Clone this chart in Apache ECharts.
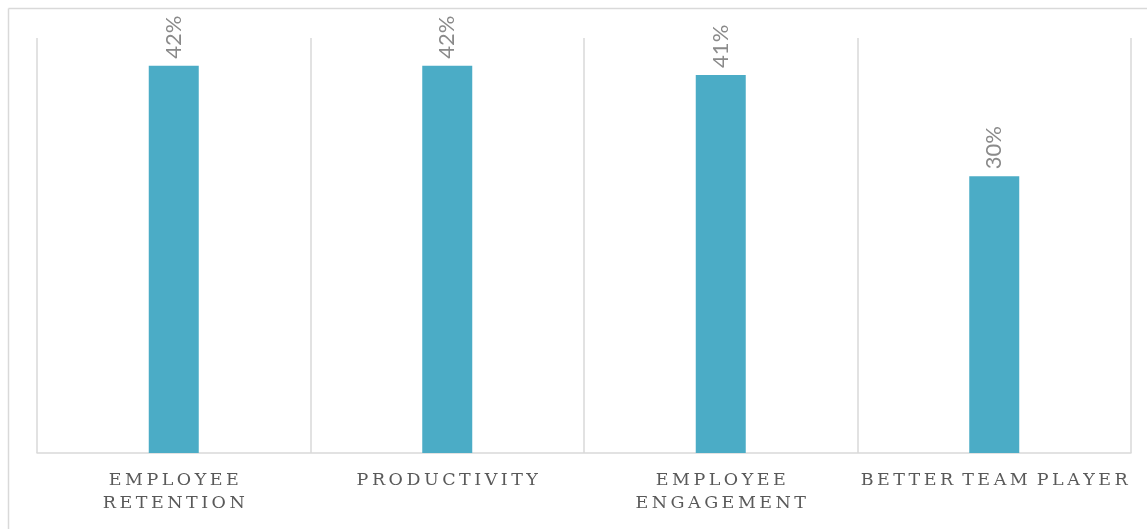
<!DOCTYPE html>
<html>
<head>
<meta charset="utf-8">
<script src="https://cdn.jsdelivr.net/npm/echarts@6/dist/echarts.min.js"></script>
<style>
  html, body { margin: 0; padding: 0; background: #fff; }
  #chart { width: 1147px; height: 529px; }
</style>
</head>
<body>
<div id="chart"></div>
<script>
var categories = ['EMPLOYEE\nRETENTION', 'PRODUCTIVITY', 'EMPLOYEE\nENGAGEMENT', 'BETTER TEAM PLAYER'];
var values = [42, 42, 41, 30];
var yMax = 45;

// no letterSpacing in zrender, so pad letters with thin spaces
function spaced(s) {
    return s.split('\n').map(function(line) {
        return line.split(' ').map(function(w) {
            return w.split('').join('\u2009');
        }).join(' \u2009');
    }).join('\n');
}

var myChart = echarts.init(document.getElementById('chart'));

var borderStyle = { stroke: '#d9d9d9', lineWidth: 1.5 };

var option = {
    animation: false,
    graphic: [{
        type: 'line',
        shape: { x1: 8.5, y1: 8.5, x2: 1147, y2: 8.5 },
        style: borderStyle,
        silent: true
    }, {
        type: 'line',
        shape: { x1: 8.5, y1: 8.5, x2: 8.5, y2: 529 },
        style: borderStyle,
        silent: true
    }],
    grid: { left: 37, right: 16, top: 38, bottom: 76 },
    xAxis: {
        type: 'category',
        data: categories,
        axisLine: { lineStyle: { color: '#d9d9d9', width: 1.5 } },
        axisTick: { show: false },
        splitLine: { show: true, lineStyle: { color: '#d9d9d9', width: 1.5 } },
        axisLabel: {
            interval: 0,
            margin: 16,
            color: '#595959',
            fontFamily: 'DejaVu Serif',
            fontSize: 17.5,
            lineHeight: 23,
            formatter: spaced
        }
    },
    yAxis: {
        type: 'value',
        min: 0,
        max: yMax,
        show: false,
        splitLine: { show: false }
    },
    series: [{
        type: 'bar',
        data: values,
        barWidth: 50,
        itemStyle: { color: '#4bacc6' },
        label: {
            show: true,
            position: 'top',
            rotate: 90,
            align: 'left',
            verticalAlign: 'middle',
            distance: 7,
            color: '#8a8a8a',
            fontFamily: 'Lato',
            fontWeight: 400,
            fontSize: 22,
            formatter: '{c}%'
        }
    }]
};

myChart.setOption(option);
</script>
</body>
</html>
